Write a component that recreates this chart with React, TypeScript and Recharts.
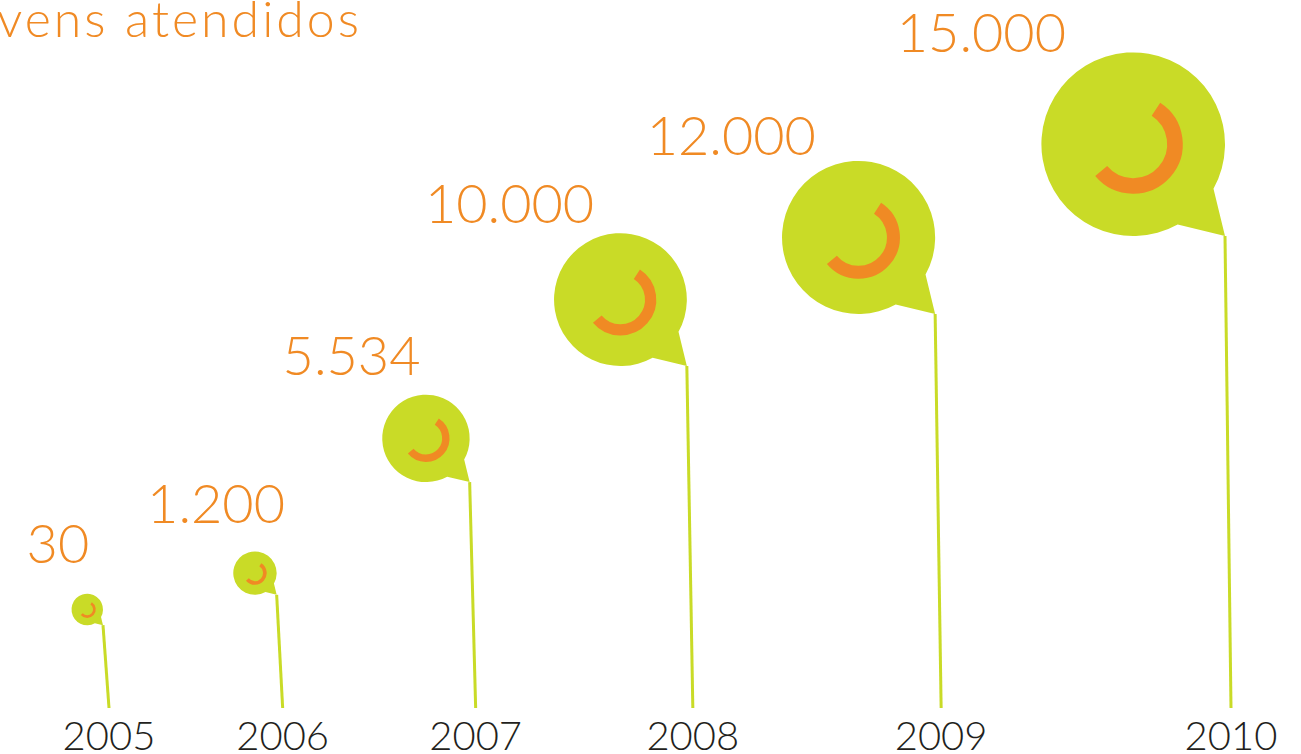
import { ScatterChart, Scatter, XAxis, YAxis } from "recharts";

const title = "Jovens atendidos";
const years: number[] = [2005, 2006, 2007, 2008, 2009, 2010];
const attended: number[] = [30, 1200, 5534, 10000, 12000, 15000];

const LIME = "#C9DB27";
const ORANGE = "#F08A24";
const INK = "#231F20";
const FONT = "Lato, 'Open Sans', sans-serif";

// the original spreads the years wider toward the right; a reversed log scale
// of "years before the pivot" reproduces that spacing
const YEAR_PIVOT = 2015.5;

const data = years.map((year, i) => ({
  year,
  pos: YEAR_PIVOT - year,
  value: attended[i],
}));

const maxValue = Math.max(...attended);
const R_MIN = 15.6;
const R_MAX = 91.8;
const STEM_BOTTOM = 708;
const SLANT = 6;

const fmt = (n: number) => String(n).replace(/\B(?=(\d{3})+(?!\d))/g, ".");

const Bubble = (props: any) => {
  const { cx, cy, payload } = props;
  if (cx == null || cy == null) return null;
  const r = R_MIN + ((R_MAX - R_MIN) * payload.value) / maxValue;
  const tx = cx - SLANT;
  const ty = cy;
  const ox = tx - r;
  const oy = ty - r;
  const pt = (deg: number, rad: number) => [
    ox + rad * Math.cos((deg * Math.PI) / 180),
    oy + rad * Math.sin((deg * Math.PI) / 180),
  ];
  const [ax, ay] = pt(29, r);
  const [bx, by] = pt(61, r);
  const body = `M${bx},${by} A${r},${r} 0 1 1 ${ax},${ay} L${tx},${ty} Z`;
  const ringR = 0.455 * r;
  const [s1x, s1y] = pt(-57, ringR);
  const [s2x, s2y] = pt(140, ringR);
  const ring = `M${s1x},${s1y} A${ringR},${ringR} 0 1 1 ${s2x},${s2y}`;
  return (
    <g>
      <line x1={tx} y1={ty} x2={cx} y2={STEM_BOTTOM} stroke={LIME} strokeWidth={3} />
      <path d={body} fill={LIME} />
      <path d={ring} fill="none" stroke={ORANGE} strokeWidth={0.17 * r} />
      <text
        x={ox - 1.61 * r - 4}
        y={oy - 0.6 * r - 37}
        textAnchor="middle"
        fill={ORANGE}
        fontSize={54}
        fontWeight={300}
        fontFamily={FONT}
      >
        {fmt(payload.value)}
      </text>
    </g>
  );
};

const YearTick = (props: any) => {
  const { x, payload } = props;
  return (
    <text
      x={x}
      y={750}
      textAnchor="middle"
      fill={INK}
      fontSize={40}
      fontWeight={300}
      fontFamily={FONT}
    >
      {Math.round(YEAR_PIVOT - payload.value)}
    </text>
  );
};

export default function App() {
  return (
    <div
      style={{
        position: "absolute",
        left: 0,
        top: 0,
        width: 1301,
        height: 754,
        overflow: "hidden",
        background: "#fff",
      }}
    >
      <svg
        width={1301}
        height={60}
        style={{ position: "absolute", left: 0, top: 0 }}
      >
        <text
          x={362}
          y={37}
          textAnchor="end"
          fill={ORANGE}
          fontSize={50}
          fontWeight={300}
          letterSpacing={3}
          fontFamily={FONT}
        >
          {title}
        </text>
      </svg>
      <ScatterChart
        width={1301}
        height={754}
        margin={{ top: 236, right: 70, bottom: 0, left: 109 }}
      >
        <XAxis
          type="number"
          dataKey="pos"
          scale="log"
          domain={[5.5, 10.5]}
          reversed
          ticks={data.map((d) => d.pos)}
          interval={0}
          axisLine={false}
          tickLine={false}
          height={128}
          tick={YearTick}
        />
        <YAxis type="number" dataKey="value" domain={[0, 15000]} hide />
        <Scatter data={data} shape={Bubble} isAnimationActive={false} />
      </ScatterChart>
    </div>
  );
}
